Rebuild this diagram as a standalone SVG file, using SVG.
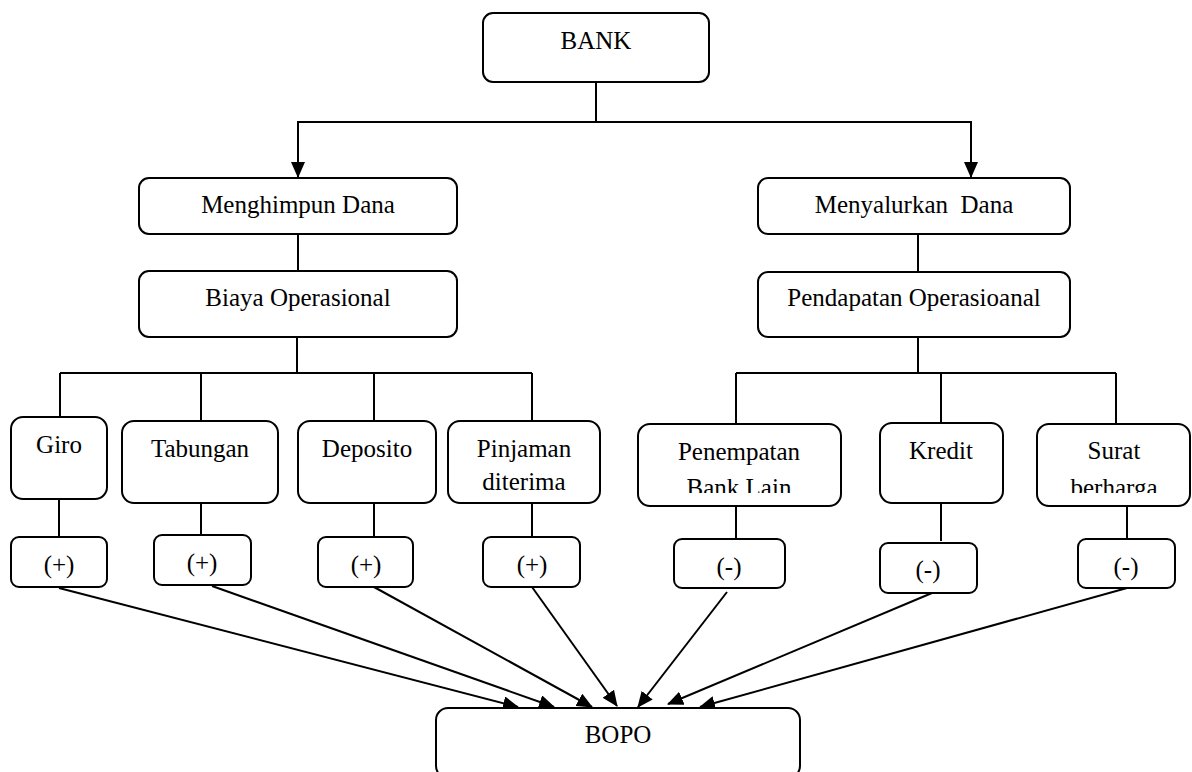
<svg xmlns="http://www.w3.org/2000/svg" width="1192" height="772" viewBox="0 0 1192 772">
<style>
.box{fill:#fff;stroke:#000;stroke-width:2}
.t{font-family:"Liberation Serif","Times New Roman",serif;font-size:25px;fill:#000;text-anchor:middle}
.c{stroke:#000;stroke-width:2;fill:none}
.a{stroke:#000;stroke-width:2;fill:none;marker-end:url(#ah)}
</style>
<defs>
<marker id="ah" markerUnits="userSpaceOnUse" markerWidth="16" markerHeight="14" viewBox="0 0 16 14" refX="15" refY="7" orient="auto">
<path d="M0,0 L16,7 L0,14 Z" fill="#000"/>
</marker>
<clipPath id="clipPen"><rect x="638" y="424" width="203" height="69"/></clipPath>
<clipPath id="clipSur"><rect x="1037" y="424" width="155" height="69"/></clipPath>
</defs>
<rect width="1192" height="772" fill="#fff"/>
<g id="connectors">
<polyline class="c" points="596,82 596,122"/>
<polyline class="a" points="596,122 298,122 298,177"/>
<polyline class="a" points="596,122 971,122 971,177"/>
<line class="c" x1="298" y1="234" x2="298" y2="271"/>
<line class="c" x1="297" y1="337" x2="297" y2="373"/>
<line class="c" x1="60" y1="373" x2="532" y2="373"/>
<line class="c" x1="60" y1="373" x2="60" y2="417"/>
<line class="c" x1="201" y1="373" x2="201" y2="421"/>
<line class="c" x1="374" y1="373" x2="374" y2="421"/>
<line class="c" x1="532" y1="373" x2="532" y2="421"/>
<line class="c" x1="918" y1="234" x2="918" y2="272"/>
<line class="c" x1="918" y1="337" x2="918" y2="373"/>
<line class="c" x1="736" y1="373" x2="1116" y2="373"/>
<line class="c" x1="736" y1="373" x2="736" y2="424"/>
<line class="c" x1="941" y1="373" x2="941" y2="423"/>
<line class="c" x1="1116" y1="373" x2="1116" y2="424"/>
<line class="c" x1="59" y1="499" x2="59" y2="537"/>
<line class="c" x1="201" y1="503" x2="201" y2="535"/>
<line class="c" x1="374" y1="503" x2="374" y2="537"/>
<line class="c" x1="532" y1="503" x2="532" y2="537"/>
<line class="c" x1="736" y1="506" x2="736" y2="539"/>
<line class="c" x1="941" y1="503" x2="941" y2="541"/>
<line class="c" x1="1127" y1="506" x2="1127" y2="539"/>
<line class="a" x1="59" y1="588" x2="518" y2="707"/>
<line class="a" x1="212" y1="586" x2="554" y2="707"/>
<line class="a" x1="374" y1="587" x2="592" y2="707"/>
<line class="a" x1="532" y1="587" x2="617" y2="706"/>
<line class="a" x1="727" y1="592" x2="638" y2="707"/>
<line class="a" x1="932" y1="593" x2="668" y2="704"/>
<line class="a" x1="1127" y1="588" x2="700" y2="707"/>
</g>
<g id="bank"><rect class="box" x="483" y="13" width="226" height="69" rx="10"/><text class="t" x="596" y="49">BANK</text></g>
<g id="menghimpun"><rect class="box" x="139" y="178" width="318" height="56" rx="10"/><text class="t" x="298" y="213">Menghimpun Dana</text></g>
<g id="biaya"><rect class="box" x="139" y="271" width="318" height="66" rx="10"/><text class="t" x="298" y="306">Biaya Operasional</text></g>
<g id="menyalurkan"><rect class="box" x="758" y="178" width="312" height="56" rx="10"/><text class="t" x="914" y="213" xml:space="preserve">Menyalurkan  Dana</text></g>
<g id="pendapatan"><rect class="box" x="758" y="272" width="312" height="65" rx="10"/><text class="t" x="914" y="306">Pendapatan Operasioanal</text></g>
<g id="giro"><rect class="box" x="11" y="417" width="96" height="82" rx="12"/><text class="t" x="59" y="453">Giro</text></g>
<g id="tabungan"><rect class="box" x="122" y="421" width="156" height="82" rx="12"/><text class="t" x="200" y="457">Tabungan</text></g>
<g id="deposito"><rect class="box" x="298" y="421" width="138" height="82" rx="12"/><text class="t" x="367" y="457">Deposito</text></g>
<g id="pinjaman"><rect class="box" x="448" y="421" width="152" height="82" rx="12"/><text class="t" x="524" y="457">Pinjaman</text><text class="t" x="524" y="490">diterima</text></g>
<g id="penempatan"><rect class="box" x="638" y="424" width="203" height="82" rx="12"/><g clip-path="url(#clipPen)"><text class="t" x="739" y="460">Penempatan</text><text class="t" x="739" y="496">Bank Lain</text></g></g>
<g id="kredit"><rect class="box" x="880" y="423" width="123" height="80" rx="12"/><text class="t" x="941" y="459">Kredit</text></g>
<g id="surat"><rect class="box" x="1037" y="424" width="153" height="82" rx="12"/><g clip-path="url(#clipSur)"><text class="t" x="1114" y="459">Surat</text><text class="t" x="1114" y="496">berharga</text></g></g>
<g id="plus-giro"><rect class="box" x="11" y="537" width="96" height="50" rx="8"/><text class="t" x="59" y="573">(+)</text></g>
<g id="plus-tabungan"><rect class="box" x="154" y="535" width="97" height="50" rx="8"/><text class="t" x="202" y="571">(+)</text></g>
<g id="plus-deposito"><rect class="box" x="318" y="537" width="95" height="50" rx="8"/><text class="t" x="366" y="573">(+)</text></g>
<g id="plus-pinjaman"><rect class="box" x="483" y="537" width="97" height="50" rx="8"/><text class="t" x="532" y="573">(+)</text></g>
<g id="minus-penempatan"><rect class="box" x="674" y="539" width="111" height="49" rx="8"/><text class="t" x="729" y="575">(-)</text></g>
<g id="minus-kredit"><rect class="box" x="880" y="543" width="97" height="50" rx="8"/><text class="t" x="928" y="578">(-)</text></g>
<g id="minus-surat"><rect class="box" x="1078" y="539" width="97" height="49" rx="8"/><text class="t" x="1126" y="575">(-)</text></g>
<g id="bopo"><rect class="box" x="436" y="708" width="364" height="70" rx="12"/><text class="t" x="618" y="743">BOPO</text></g>
</svg>
